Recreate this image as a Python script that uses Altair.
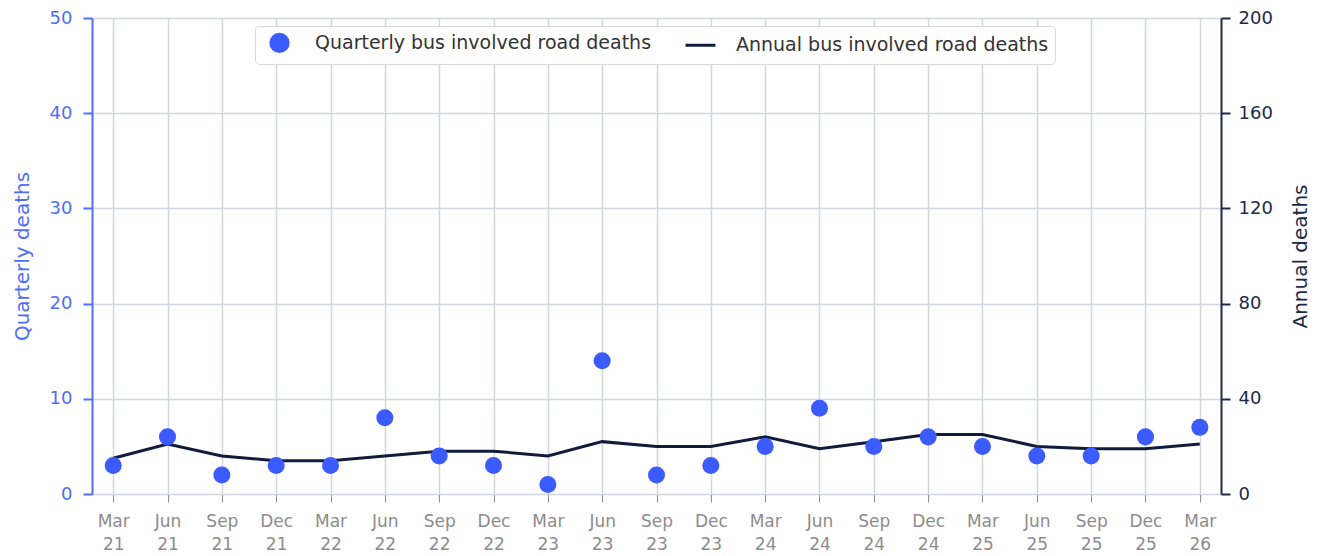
import altair as alt
import pandas as pd

quarters = ["Mar 21", "Jun 21", "Sep 21", "Dec 21", "Mar 22", "Jun 22", "Sep 22",
            "Dec 22", "Mar 23", "Jun 23", "Sep 23", "Dec 23", "Mar 24", "Jun 24",
            "Sep 24", "Dec 24", "Mar 25", "Jun 25", "Sep 25", "Dec 25", "Mar 26"]
quarterly = [3, 6, 2, 3, 3, 8, 4, 3, 1, 14, 2, 3, 5, 9, 5, 6, 5, 4, 4, 6, 7]
annual = [15, 21, 16, 14, 14, 16, 18, 18, 16, 22, 20, 20, 24, 19, 22, 25, 25, 20, 19, 19, 21]
series_names = ["Quarterly bus involved road deaths", "Annual bus involved road deaths"]

BLUE = "#3b5bfd"
BLUE_AXIS = "#4f6ef7"
NAVY = "#0f1c3c"
NAVY_AXIS = "#1c2a4a"
GRID = "#d3d6dd"
GREY_TXT = "#8c8c8c"
FONT = "DejaVu Sans"

dq = pd.DataFrame({"quarter": quarters, "value": quarterly, "series": series_names[0]})
da = pd.DataFrame({"quarter": quarters, "value": annual, "series": series_names[1]})

x_enc = alt.X(
    "quarter:N", sort=quarters,
    scale=alt.Scale(type="point", padding=0.39),
    axis=alt.Axis(
        title=None, labelAngle=0, labelExpr="split(datum.label, ' ')",
        labelColor=GREY_TXT, labelFont=FONT, labelFontSize=17, labelLineHeight=23,
        labelPadding=11, tickColor=GREY_TXT, tickSize=8, domainColor=GRID,
        grid=True, gridColor=GRID, gridWidth=1.5, labelBaseline="top",
    ),
)

is_annual = "datum.value == 'Annual bus involved road deaths'"
color_scale = alt.Scale(domain=series_names, range=[BLUE, NAVY])
legend = alt.Legend(
    title=None, orient="none", legendX=163, legendY=8, direction="horizontal",
    symbolType={"expr": is_annual + " ? 'stroke' : 'circle'"},
    symbolSize={"expr": is_annual + " ? 900 : 300"},
    symbolStrokeWidth=3, labelFont=FONT, labelFontSize=19,
    labelColor="#333333", fillColor="white", strokeColor="#d8d8d8", cornerRadius=4,
    padding=6, symbolOffset=8, columnPadding=27, labelOffset=25, labelLimit=500,
)

points = alt.Chart(dq).mark_circle(size=290, opacity=1).encode(
    x=x_enc,
    y=alt.Y("value:Q", scale=alt.Scale(domain=[0, 50]),
            axis=alt.Axis(title="Quarterly deaths", values=[0, 10, 20, 30, 40, 50],
                          titleColor=BLUE_AXIS, titleFont=FONT, titleFontSize=20,
                          titleFontWeight="normal", titlePadding=17,
                          labelColor=BLUE_AXIS, labelFont=FONT, labelFontSize=18,
                          labelPadding=11, tickSize=9, tickColor=BLUE_AXIS, tickWidth=2,
                          domainColor=BLUE_AXIS, domainWidth=2,
                          grid=True, gridColor=GRID, gridWidth=1.5)),
    color=alt.Color("series:N", scale=color_scale, legend=legend),
)

line = alt.Chart(da).mark_line(strokeWidth=3).encode(
    x=x_enc,
    y=alt.Y("value:Q", scale=alt.Scale(domain=[0, 200]),
            axis=alt.Axis(title="Annual deaths", orient="right", values=[0, 40, 80, 120, 160, 200],
                          titleAngle=270,
                          titleColor=NAVY_AXIS, titleFont=FONT, titleFontSize=20,
                          titleFontWeight="normal", titlePadding=38,
                          labelColor=NAVY_AXIS, labelFont=FONT, labelFontSize=18,
                          labelPadding=8, tickSize=9, tickColor=NAVY_AXIS, tickWidth=2,
                          domainColor=NAVY_AXIS, domainWidth=2, grid=False)),
    color=alt.Color("series:N", scale=color_scale, legend=legend),
)

chart = alt.layer(line, points).resolve_scale(y="independent").properties(
    width=1129, height=476,
    autosize=alt.AutoSizeParams(type="none"),
    padding={"left": 84, "top": 10, "right": 92, "bottom": 62},
).configure_view(stroke=None)

chart.save("out.html", embed_options={"renderer": "svg", "actions": False})
